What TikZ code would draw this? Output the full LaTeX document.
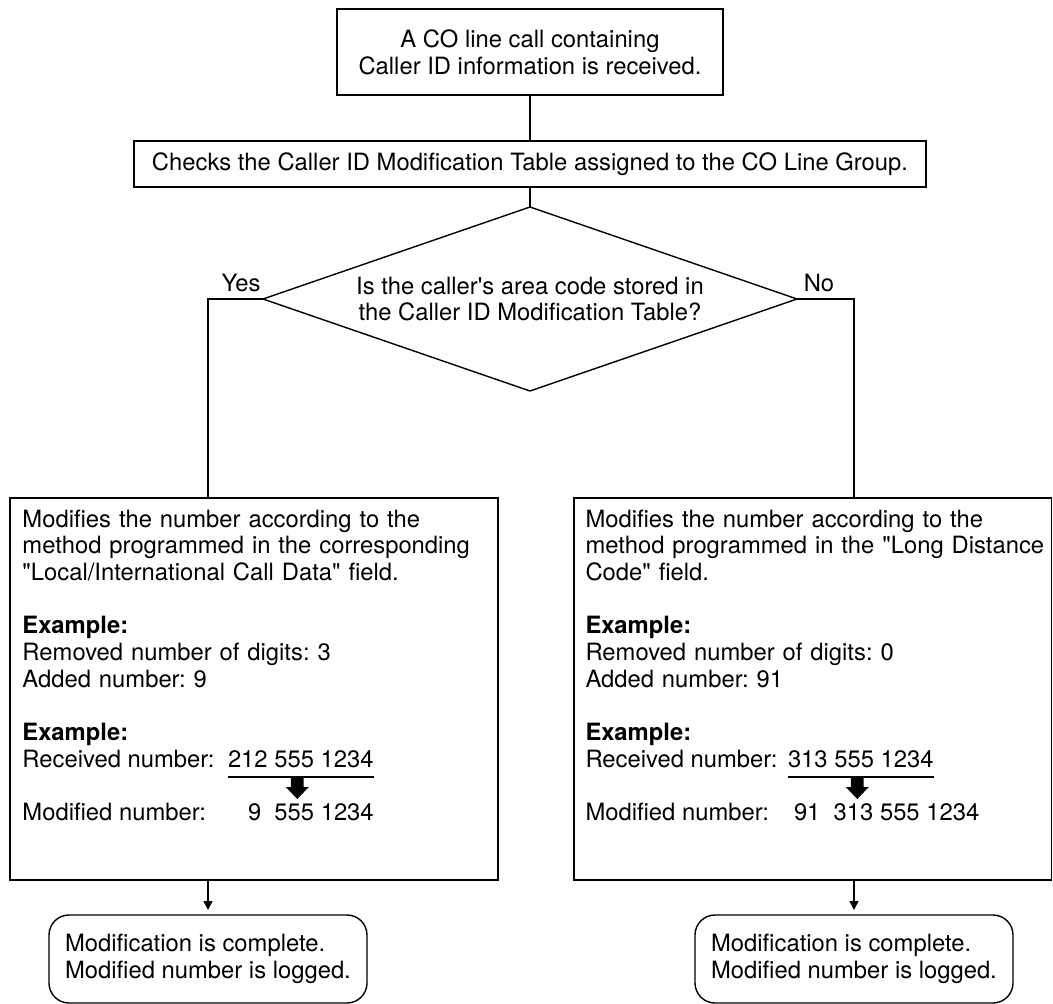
\documentclass[tikz,border=0pt]{standalone}
\usepackage{fontspec}
\setmainfont{TeX Gyre Heros}[Ligatures=TeXOff]
\usetikzlibrary{shapes.geometric,arrows.meta}
\begin{document}
\frenchspacing
\begin{tikzpicture}[x=1pt,y=-1pt,
  every node/.style={font=\fontsize{23.8}{26.67}\selectfont\frenchspacing, inner sep=0pt, outer sep=0pt},
  conn/.style={line width=1.4pt},
  box/.style={draw, line width=1.4pt, rectangle},
  txt/.style={align=left, text width=470pt},
  arr/.style={conn, -{Triangle[length=9pt,width=9pt]}},
  endbox/.style={draw, line width=1.4pt, rounded corners=20pt, minimum width=318pt, minimum height=88pt, align=left},
  uline/.style={line width=1.8pt}]
\useasboundingbox (0,0) rectangle (1053,1004);

\node[box, minimum width=386pt, minimum height=86pt, align=center] (start) at (530,52)
  {A CO line call containing\\Caller ID information is received.};
\node[box, minimum width=792pt, minimum height=46pt] (check) at (530,164)
  {Checks the Caller ID Modification Table assigned to the CO Line Group.};
\node[diamond, draw, line width=1.4pt, aspect=2.9, minimum width=534pt, minimum height=184pt, align=center] (dec) at (530,299)
  {Is the caller's area code stored in\\the Caller ID Modification Table?};
\node[anchor=base] (yes) at (241,291) {Yes};
\node[anchor=base] (no) at (819,291) {No};

\node[box, minimum width=488pt, minimum height=382pt] (lbox) at (254,689) {};
\node[box, minimum width=477.5pt, minimum height=382pt] (rbox) at (812.75,689) {};

\node[txt, anchor=base west] (ltext) at (22.5,527)
  {Modifies the number according to the\\method programmed in the corresponding\\"Local/International Call Data" field.\\[26.67pt]\textbf{Example:}\\Removed number of digits: 3\\Added number: 9\\[26.67pt]\textbf{Example:}};
\node[anchor=base west] (lrec) at (22.5,767) {Received number:};
\node[anchor=base west] (lrecnum) at (228,767) {212 555 1234};
\node[anchor=base west] (lmod) at (22.5,820) {Modified number:};
\node[anchor=base west] (lmodnum) at (248,820) {9~~555 1234};

\node[txt, anchor=base west] (rtext) at (585.5,527)
  {Modifies the number according to the\\method programmed in the "Long Distance\\Code" field.\\[26.67pt]\textbf{Example:}\\Removed number of digits: 0\\Added number: 91\\[26.67pt]\textbf{Example:}};
\node[anchor=base west] (rrec) at (585.5,767) {Received number:};
\node[anchor=base west] (rrecnum) at (788,767) {313 555 1234};
\node[anchor=base west] (rmod) at (585.5,820) {Modified number:};
\node[anchor=base west] (rmodnum) at (794,820) {91~~313 555 1234};

% underlines and thick arrows
\draw[uline] ([yshift=-10pt]lrecnum.base west) -- ([yshift=-10pt]lrecnum.base east);
\draw[uline] ([yshift=-10pt]rrecnum.base west) -- ([yshift=-10pt]rrecnum.base east);
\coordinate (la) at ([xshift=-3.5pt,yshift=-10pt]lrecnum.base);
\coordinate (ra) at ([xshift=-3.5pt,yshift=-10pt]rrecnum.base);
\foreach \p in {la,ra}{
  \fill ([xshift=-6.3pt]\p) -- ([xshift=6.3pt]\p) -- ([xshift=6.3pt,yshift=-10pt]\p)
    -- ([xshift=11.5pt,yshift=-10pt]\p) -- ([yshift=-22pt]\p)
    -- ([xshift=-11.5pt,yshift=-10pt]\p) -- ([xshift=-6.3pt,yshift=-10pt]\p) -- cycle;
}

\node[endbox] (lend) at (208,959) {Modification is complete.\\Modified number is logged.};
\node[endbox] (rend) at (854,959) {Modification is complete.\\Modified number is logged.};

\coordinate (lj) at (208,299);
\coordinate (rj) at (854,299);
\draw[conn] (start.south) -- (check.north);
\draw[conn] (check.south) -- (dec.north);
\draw[conn] (dec.west) -- (lj) -- (lj |- lbox.north);
\draw[conn] (dec.east) -- (rj) -- (rj |- rbox.north);
\draw[arr] (lend.north |- lbox.south) -- ([yshift=5pt]lend.north);
\draw[arr] (rend.north |- rbox.south) -- ([yshift=5pt]rend.north);
\end{tikzpicture}
\end{document}
